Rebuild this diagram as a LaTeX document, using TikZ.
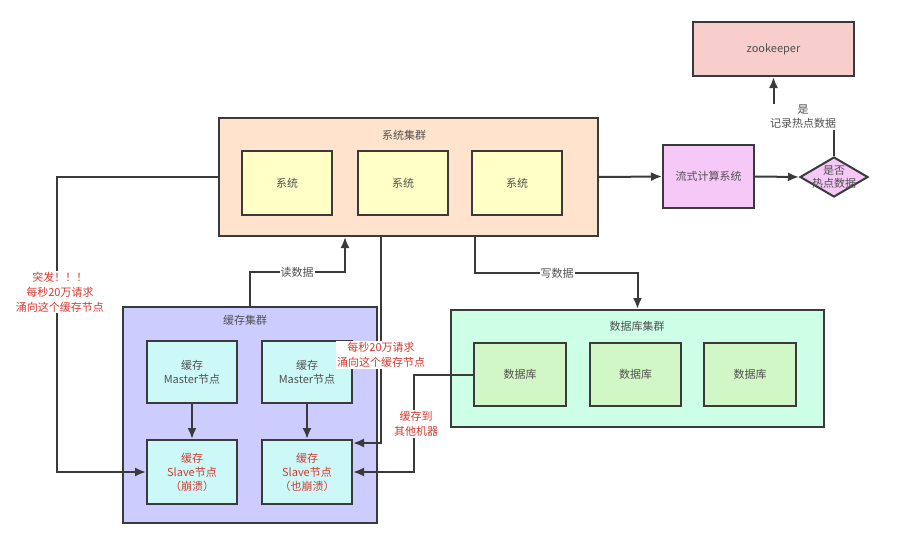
\documentclass[tikz,border=0pt]{standalone}
\usepackage{fontspec}
\setmainfont{Noto Sans CJK SC}
\usepackage{tikz}
\usetikzlibrary{arrows.meta,shapes.geometric,calc}
\definecolor{edgegray}{HTML}{3A3A3A}
\definecolor{txtgray}{HTML}{505050}
\definecolor{alertred}{HTML}{D43A2F}
\definecolor{sysfill}{HTML}{FFE3CC}
\definecolor{sysbox}{HTML}{FFFFC6}
\definecolor{streamfill}{HTML}{F6C8F8}
\definecolor{zkfill}{HTML}{F8CECC}
\definecolor{cachefill}{HTML}{CCCCFF}
\definecolor{cachebox}{HTML}{CCF8F8}
\definecolor{dbfill}{HTML}{CCFFE6}
\definecolor{dbbox}{HTML}{D2F7C6}
\tikzstyle{cluster}=[rectangle, draw=edgegray, line width=2pt]
\tikzstyle{blk}=[rectangle, draw=edgegray, line width=2pt, minimum width=90pt,% a box of the diagram
minimum height=63pt, align=center, text=txtgray, font=\fontsize{11}{14}\selectfont]
\tikzstyle{flow}=[-{Latex[length=11pt,width=9pt]}, line width=2pt, draw=edgegray]
\tikzstyle{lbl}=[fill=white, text=txtgray, inner sep=1pt, align=center, font=\fontsize{11}{14}\selectfont]
\tikzstyle{redlbl}=[fill=white, text=alertred, inner sep=1pt, align=center, font=\fontsize{11}{15}\selectfont]

\begin{document}
\begin{tikzpicture}[x=1pt,y=-1pt]
\useasboundingbox[fill=white] (0,0) rectangle (900,549);
% clusters
\node[cluster, fill=sysfill, minimum width=379pt, minimum height=118pt] (syscl) at (408.5,177) {};
\node[cluster, fill=cachefill, minimum width=254pt, minimum height=216pt] (cachecl) at (250,415) {};
\node[cluster, fill=dbfill, minimum width=373pt, minimum height=117pt] (dbcl) at (637.5,368.5) {};
\node[text=txtgray, font=\fontsize{11}{14}\selectfont] (systitle) at (404,135) {系统集群};
\node[text=txtgray, font=\fontsize{11}{14}\selectfont] (cachetitle) at (245,320) {缓存集群};
\node[text=txtgray, font=\fontsize{11}{14}\selectfont] (dbtitle) at (637,326) {数据库集群};

\node[blk, fill=sysbox, minimum height=64pt] (sys1) at (287,183) {系统};
\node[blk, fill=sysbox, minimum height=64pt] (sys2) at (403,183) {系统};
\node[blk, fill=sysbox, minimum height=64pt] (sys3) at (517,183) {系统};
\node[blk, fill=streamfill, minimum width=91pt] (stream) at (708.5,176.5) {流式计算系统};
\node[diamond, draw=edgegray, line width=2pt, fill=streamfill, minimum width=68pt, minimum height=40pt, inner sep=0pt] (hot) at (834,177) {};
\node[text=txtgray, align=center, font=\fontsize{11}{13}\selectfont] (hottxt) at (hot) {是否\\热点数据};
\node[blk, fill=zkfill, minimum width=161pt, minimum height=54pt] (zk) at (773.5,49) {zookeeper};

\node[blk, fill=cachebox, minimum height=62pt] (m1) at (192,372) {缓存\\Master节点};
\node[blk, fill=cachebox, minimum height=62pt] (m2) at (307,372) {缓存\\Master节点};
\node[blk, fill=cachebox, minimum height=64pt, text=alertred] (s1) at (192,472) {缓存\\Slave节点\\（崩溃）};
\node[blk, fill=cachebox, minimum height=64pt, text=alertred] (s2) at (307,472) {缓存\\Slave节点\\（也崩溃）};

\node[blk, fill=dbbox, minimum width=92pt] (db1) at (520,374.5) {数据库};
\node[blk, fill=dbbox, minimum width=91pt] (db2) at (635.5,374.5) {数据库};
\node[blk, fill=dbbox, minimum width=92pt] (db3) at (750,374.5) {数据库};

% connectors
\draw[flow] (syscl.east) -- (stream.west);
\draw[flow] (stream.east) -- (hot.west);
\draw[flow] (hot.north) |- (773.5,117) -- (zk.south);
\draw[flow] (syscl.west) -| (57,300) |- (s1.west);
\draw[flow] (cachecl.north) |- (345,272) -- (syscl.south -| 345,0);
\draw[flow] (syscl.south -| 475,0) |- (637.5,273) -- (dbcl.north);
\draw[flow] (syscl.south -| 381,0) |- ([yshift=29pt]s2.east);
\draw[flow] (db1.west) -| (414,430) |- (s2.east);
\draw[flow] (m1) -- (s1);
\draw[flow] (m2) -- (s2);

% labels
\node[lbl] (hotlbl) at (803,117) {是\\记录热点数据};
\node[lbl] (readlbl) at (297,272) {读数据};
\node[lbl] (writelbl) at (557,273) {写数据};
\node[redlbl] (burst) at (60,292) {突发！！！\\每秒20万请求\\涌向这个缓存节点};
\node[redlbl] (burst2) at (381,355) {每秒20万请求\\涌向这个缓存节点};
\node[redlbl] (moved) at (416,424) {缓存到\\其他机器};
\end{tikzpicture}
\end{document}
